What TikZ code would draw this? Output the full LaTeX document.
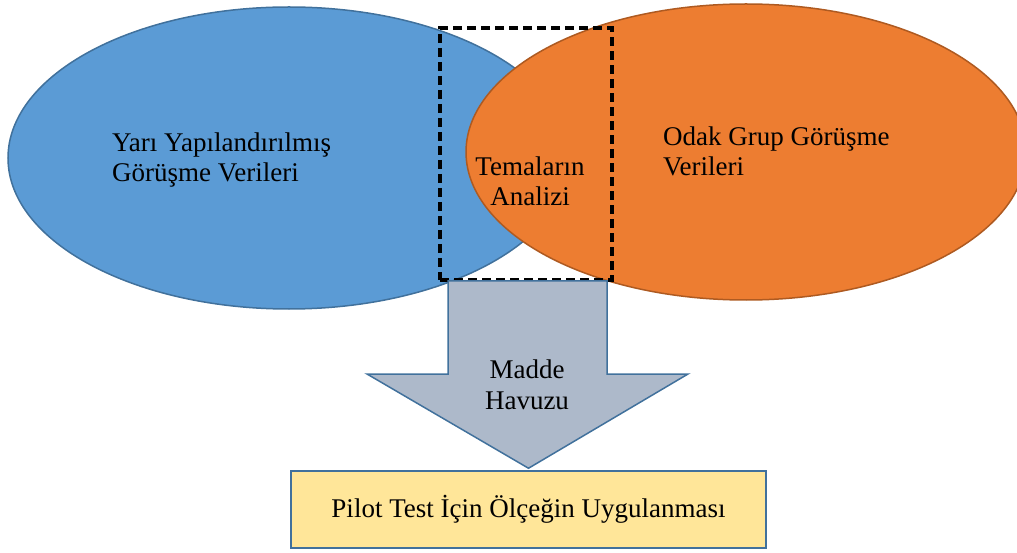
\documentclass[tikz,border=0pt]{standalone}
\usepackage{fontspec}
\setmainfont{Liberation Serif}
\usetikzlibrary{shapes.geometric,positioning,calc}

\definecolor{blueFill}{HTML}{5B9BD5}
\definecolor{blueLine}{HTML}{41719C}
\definecolor{orangeFill}{HTML}{ED7D31}
\definecolor{orangeLine}{HTML}{AE5A21}
\definecolor{arrowFill}{HTML}{ADB9CA}
\definecolor{boxFill}{HTML}{FFE699}

\tikzset{
  labeltext/.style={font=\fontsize{27}{30.5}\selectfont, inner sep=0pt},
  oval/.style={ellipse, inner sep=0pt, line width=1.5pt}
}

\begin{document}
\begin{tikzpicture}[x=1pt,y=-1pt]
\clip (0,0) rectangle (1017,553);

%draw the two ellipses
    \node[oval, draw=blueLine, fill=blueFill, minimum width=562, minimum height=302] (semi) at (289,158) {};
    \node[oval, draw=orangeLine, fill=orangeFill, minimum width=560, minimum height=296] (focus) at (746,152) {};

%draw dashed frame round the overlap
    \node[draw=black, line width=3.2pt, dash pattern=on 9pt off 5pt, minimum width=172, minimum height=252, inner sep=0pt] (themes) at (526,154) {};

%draw down arrow and bottom box
    \node[draw=blueLine, fill=boxFill, line width=1.5pt, minimum width=475, minimum height=77, labeltext] (pilot) at (528.5,509.5) {Pilot Test İçin Ölçeğin Uygulanması};
    \coordinate (tip) at ([yshift=2pt]pilot.north);
    \draw[blueLine, fill=arrowFill, line width=1.5pt]
        (448,281) -- (607,281) -- (607,374) -- (688,374) -- (tip) -- (367,374) -- (448,374) -- cycle;

%    labels (base = last line)
    \node[labeltext, align=left, anchor=base west] (semiText) at (112,182) {Yarı Yapılandırılmış\\Görüşme Verileri};
    \node[labeltext, align=left, anchor=base west] (focusText) at (663,176) {Odak Grup Görüşme\\Verileri};
    \node[labeltext, align=center, anchor=base] (themesText) at (530,206) {Temaların\\Analizi};
    \node[labeltext, align=center, anchor=base] (poolText) at (527,409) {Madde\\Havuzu};

\end{tikzpicture}
\end{document}
